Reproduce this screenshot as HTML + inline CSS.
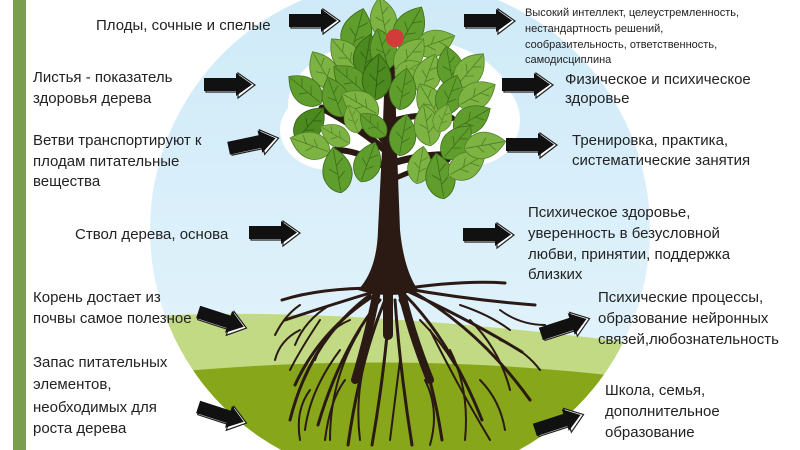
<!DOCTYPE html>
<html><head><meta charset="utf-8"><style>
html,body{margin:0;padding:0;background:#fff;}
svg{display:block;}
text{font-family:"Liberation Sans","DejaVu Sans",sans-serif;fill:#222;}
</style></head><body>
<svg width="800" height="450" viewBox="0 0 800 450" xmlns="http://www.w3.org/2000/svg">
<defs>
<clipPath id="c"><circle cx="400" cy="230" r="250"/></clipPath>
<linearGradient id="sky" x1="0" y1="0" x2="0" y2="1"><stop offset="0" stop-color="#cfeaf8"/><stop offset="1" stop-color="#e6f5fc"/></linearGradient>
<g id="ar"><path d="M2,8 L34,7 L34,1 L51,13 L34,26 L34,20 L2,20 Z" fill="#fff" stroke="#222" stroke-width="1.2"/><path d="M0,6 L32,6 L32,1 L48,12.5 L32,24 L32,19 L0,19 Z" fill="#111"/></g>
<g id="lf"><path d="M0,-21 Q15,-8 13,6 Q10,18 0,21 Q-10,18 -13,6 Q-15,-8 0,-21Z" fill="#5f9e2c" stroke="#3f6e1a" stroke-width="0.8"/><path d="M0,-19 L0,19 M0,-4 L7,-10 M0,4 L-7,-2 M0,8 L7,2" stroke="#3f6e1a" stroke-width="0.8" fill="none"/></g>
<g id="lf2"><path d="M0,-21 Q15,-8 13,6 Q10,18 0,21 Q-10,18 -13,6 Q-15,-8 0,-21Z" fill="#7cb342" stroke="#4f7e24" stroke-width="0.8"/><path d="M0,-19 L0,19 M0,-4 L7,-10 M0,4 L-7,-2 M0,8 L7,2" stroke="#4f7e24" stroke-width="0.8" fill="none"/></g>
<g id="lf3"><path d="M0,-21 Q15,-8 13,6 Q10,18 0,21 Q-10,18 -13,6 Q-15,-8 0,-21Z" fill="#4c8a20" stroke="#2f5e12" stroke-width="0.8"/><path d="M0,-19 L0,19 M0,-4 L7,-10 M0,4 L-7,-2 M0,8 L7,2" stroke="#2f5e12" stroke-width="0.8" fill="none"/></g>
</defs>
<rect x="13" y="0" width="13" height="450" fill="#7a9e4e"/>
<g clip-path="url(#c)">
<rect x="0" y="0" width="800" height="450" fill="url(#sky)"/>
<path d="M100,320 Q300,300 650,345 L650,450 L100,450Z" fill="#c3da84"/>
<path d="M100,380 Q380,345 650,380 L650,450 L100,450Z" fill="#87a61a"/>
</g>
<ellipse cx="400" cy="105" rx="112" ry="68" fill="#fff"/>
<ellipse cx="330" cy="130" rx="50" ry="40" fill="#fff"/>
<ellipse cx="475" cy="120" rx="45" ry="45" fill="#fff"/>
<g stroke="#2b1a14" fill="none" stroke-linecap="round">
<path d="M385,150 Q355,125 322,108" stroke-width="7"/>
<path d="M383,140 Q360,110 345,75" stroke-width="6"/>
<path d="M386,168 Q360,150 335,150" stroke-width="6"/>
<path d="M396,120 Q425,112 452,118" stroke-width="6"/>
<path d="M396,162 Q440,150 472,158" stroke-width="7"/>
<path d="M396,178 Q425,165 448,160" stroke-width="5"/>
<path d="M394,100 Q410,90 420,70" stroke-width="4"/>
<g stroke-width="3">
<path d="M380,290 Q330,305 285,320"/><path d="M375,295 Q320,330 295,385"/><path d="M380,300 Q340,350 318,425"/>
<path d="M385,300 Q360,360 348,445"/><path d="M390,300 Q385,370 372,445"/><path d="M395,300 Q400,370 412,445"/>
<path d="M400,300 Q430,360 442,440"/><path d="M405,295 Q450,340 482,420"/><path d="M405,290 Q470,320 522,352"/>
<path d="M402,288 Q470,300 535,305"/><path d="M378,288 Q320,288 282,300"/><path d="M395,290 Q460,280 505,283"/>
<path d="M410,290 Q480,330 530,400"/><path d="M370,295 Q310,340 290,420"/>
</g>
<g stroke-width="2">
<path d="M320,320 Q300,350 290,370"/><path d="M470,320 Q500,350 510,390"/><path d="M340,350 Q310,390 305,430"/>
<path d="M450,350 Q470,390 465,440"/><path d="M360,330 Q330,380 330,440"/><path d="M430,330 Q460,390 490,440"/>
<path d="M300,330 Q280,340 275,360"/><path d="M500,340 Q525,350 540,370"/>
<path d="M330,305 Q305,320 295,345"/><path d="M460,305 Q490,315 510,330"/><path d="M350,320 Q325,330 315,360"/>
<path d="M420,320 Q440,340 455,365"/><path d="M345,380 Q330,400 325,440"/><path d="M425,380 Q440,410 430,445"/>
<path d="M310,390 Q295,410 300,440"/><path d="M480,380 Q500,400 505,430"/><path d="M365,360 Q355,400 360,440"/>
<path d="M400,360 Q395,400 390,440"/><path d="M500,310 Q520,325 545,325"/><path d="M300,305 Q285,315 275,335"/>
</g>
<path d="M378,285 Q370,330 355,380" stroke-width="8"/><path d="M400,285 Q410,330 430,380" stroke-width="8"/>
<path d="M388,285 L388,335" stroke-width="10"/>
</g>
<path d="M386,40 L394,40 L397,150 L400,230 Q404,270 418,290 Q390,300 358,290 Q377,270 378,230 L382,150Z" fill="#2b1a14"/>
<use href="#lf" transform="translate(357,32) rotate(15) scale(1.15)"/>
<use href="#lf2" transform="translate(383,18) rotate(-10)"/>
<use href="#lf" transform="translate(410,27) rotate(30) scale(1.1)"/>
<use href="#lf2" transform="translate(435,43) rotate(70)"/>
<use href="#lf2" transform="translate(345,55) rotate(-40)"/>
<use href="#lf3" transform="translate(367,55) rotate(10)"/>
<use href="#lf" transform="translate(383,49) rotate(-15)"/>
<use href="#lf2" transform="translate(410,55) rotate(40)"/>
<use href="#lf2" transform="translate(323,70) rotate(-30)"/>
<use href="#lf" transform="translate(350,80) rotate(-50)"/>
<use href="#lf3" transform="translate(377,77) rotate(5) scale(1.1)"/>
<use href="#lf2" transform="translate(408,70) rotate(60) scale(0.7)"/>
<use href="#lf2" transform="translate(428,74) rotate(20)"/>
<use href="#lf" transform="translate(450,67) rotate(-10)"/>
<use href="#lf2" transform="translate(470,70) rotate(40)"/>
<use href="#lf" transform="translate(305,90) rotate(-50)"/>
<use href="#lf" transform="translate(335,97) rotate(-20)"/>
<use href="#lf2" transform="translate(360,104) rotate(-60)"/>
<use href="#lf" transform="translate(403,89) rotate(10)"/>
<use href="#lf2" transform="translate(430,102) rotate(-30)"/>
<use href="#lf" transform="translate(450,95) rotate(20)"/>
<use href="#lf2" transform="translate(477,95) rotate(60)"/>
<use href="#lf3" transform="translate(310,124) rotate(40)"/>
<use href="#lf2" transform="translate(335,135) rotate(-60) scale(0.8)"/>
<use href="#lf2" transform="translate(353,119) rotate(-20) scale(0.7)"/>
<use href="#lf" transform="translate(373,125) rotate(-50) scale(0.8)"/>
<use href="#lf" transform="translate(403,135) rotate(10)"/>
<use href="#lf2" transform="translate(427,125) rotate(-10)"/>
<use href="#lf2" transform="translate(443,118) rotate(20) scale(0.7)"/>
<use href="#lf" transform="translate(472,119) rotate(60)"/>
<use href="#lf2" transform="translate(310,145) rotate(-70)"/>
<use href="#lf" transform="translate(337,170) rotate(-10) scale(1.1)"/>
<use href="#lf" transform="translate(368,162) rotate(20)"/>
<use href="#lf2" transform="translate(420,165) rotate(10) scale(0.9)"/>
<use href="#lf" transform="translate(440,176) rotate(-10) scale(1.1)"/>
<use href="#lf" transform="translate(457,142) rotate(40)"/>
<use href="#lf2" transform="translate(467,165) rotate(60)"/>
<use href="#lf2" transform="translate(485,145) rotate(80)"/>
<circle cx="395" cy="38" r="9" fill="#d33a3a"/>
<use href="#ar" transform="translate(289,8)"/>
<use href="#ar" transform="translate(464,8)"/>
<use href="#ar" transform="translate(204,72)"/>
<use href="#ar" transform="translate(226,136) rotate(-12)"/>
<use href="#ar" transform="translate(249,220)"/>
<use href="#ar" transform="translate(202,300) rotate(18)"/>
<use href="#ar" transform="translate(202,395) rotate(18)"/>
<use href="#ar" transform="translate(502,72)"/>
<use href="#ar" transform="translate(506,132)"/>
<use href="#ar" transform="translate(463,222)"/>
<use href="#ar" transform="translate(537,322) rotate(-18)"/>
<use href="#ar" transform="translate(531,418) rotate(-18)"/>
<g font-size="15">
<text x="96" y="30">Плоды, сочные и спелые</text>
<text x="33" y="82">Листья - показатель</text><text x="33" y="103">здоровья дерева</text>
<text x="33" y="145">Ветви транспортируют к</text><text x="33" y="166">плодам питательные</text><text x="33" y="186">вещества</text>
<text x="75" y="239">Ствол дерева, основа</text>
<text x="33" y="302">Корень достает из</text><text x="33" y="323">почвы самое полезное</text>
<text x="33" y="367">Запас питательных</text><text x="33" y="389">элементов,</text><text x="33" y="412">необходимых для</text><text x="33" y="433">роста дерева</text>
<text x="565" y="84">Физическое и психическое</text><text x="565" y="103">здоровье</text>
<text x="572" y="145">Тренировка, практика,</text><text x="572" y="165">систематические занятия</text>
<text x="528" y="217">Психическое здоровье,</text><text x="528" y="238">уверенность в безусловной</text><text x="528" y="259">любви, принятии, поддержка</text><text x="528" y="279">близких</text>
<text x="598" y="302">Психические процессы,</text><text x="598" y="323">образование нейронных</text><text x="598" y="344">связей,любознательность</text>
<text x="605" y="395">Школа, семья,</text><text x="605" y="416">дополнительное</text><text x="605" y="437">образование</text>
</g>
<g font-size="11">
<text x="525" y="16">Высокий интеллект, целеустремленность,</text>
<text x="525" y="32">нестандартность решений,</text>
<text x="525" y="48">сообразительность, ответственность,</text>
<text x="525" y="63">самодисциплина</text>
</g>
</svg>
</body></html>
